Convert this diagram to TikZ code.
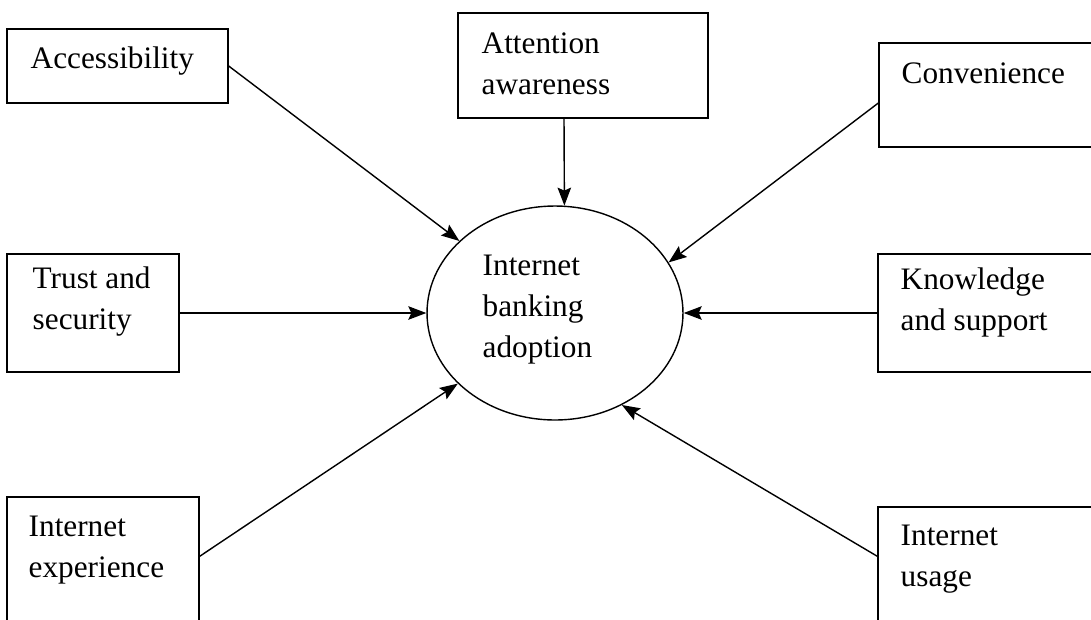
\documentclass[tikz,border=0pt]{standalone}
\usepackage{fontspec}
\setmainfont{Liberation Serif}
\usepackage{tikz}
\usetikzlibrary{arrows.meta}
\usetikzlibrary{shapes.geometric}
\usetikzlibrary{positioning}
\tikzset{feed/.style = {-{Stealth[length=0.36cm, width=0.27cm, inset=0.06cm]}}}
\tikzset{box/.style = {draw, rectangle, line width=0.8pt, inner sep=0}}
\tikzset{txt/.style = {anchor=base west, inner sep=0, align=left,
                       font=\fontsize{17.8}{23.3}\selectfont}}

\begin{document}
\begin{tikzpicture}[x=0.02cm, y=-0.02cm, line width=0.8pt]
      \fill [white] (0, 0) rectangle (1091, 619);
      \useasboundingbox (0, 0) rectangle (1091, 619);

      % boxes and their texts (base = last line)
      \node (acc) at (117.5, 66) [box, minimum width=4.42cm, minimum height=1.48cm] {};
      \node (acct) at (30, 68) [txt] {Accessibility};
      \node (att) at (583, 65.5) [box, minimum width=5.0cm, minimum height=2.1cm] {};
      \node (attt) at (481, 94) [txt] {Attention\\awareness};
      \node (conv) at (999.5, 95) [box, minimum width=4.82cm, minimum height=2.08cm] {};
      \node (convt) at (901, 83) [txt] {Convenience};

      \node (trust) at (93, 313) [box, minimum width=3.44cm, minimum height=2.36cm] {};
      \node (trustt) at (32, 329) [txt] {Trust and\\security};
      \node (know) at (999, 313) [box, minimum width=4.84cm, minimum height=2.36cm] {};
      \node (knowt) at (900, 330) [txt] {Knowledge\\and support};

      \node (exp) at (103, 578.5) [box, minimum width=3.84cm, minimum height=3.26cm] {};
      \node (expt) at (28, 577) [txt] {Internet\\experience};
      \node (use) at (999, 588.5) [box, minimum width=4.84cm, minimum height=3.26cm] {};
      \node (uset) at (900, 586) [txt] {Internet\\usage};

      \node (ell) at (555, 313) [draw, ellipse, inner sep=0, minimum width=5.12cm, minimum height=4.28cm] {};
      \node (ellt) at (482, 357) [txt] {Internet\\banking\\adoption};

      \draw [feed] (acc.east) -- (ell.143.3);
      \draw [feed] ([xshift=-0.38cm]att.south) -- (ell.85.2);
      \draw [feed] ([yshift=-0.16cm]conv.west) -- (ell.24);
      \draw [feed] (trust.east) -- (ell.west);
      \draw [feed] (know.west) -- (ell.east);
      \draw [feed] ([yshift=-1.2cm]exp.north east) -- (ell.216.9);
      \draw [feed] ([yshift=-1.0cm]use.north west) -- (ell.306.9);
    \end{tikzpicture}
\end{document}
